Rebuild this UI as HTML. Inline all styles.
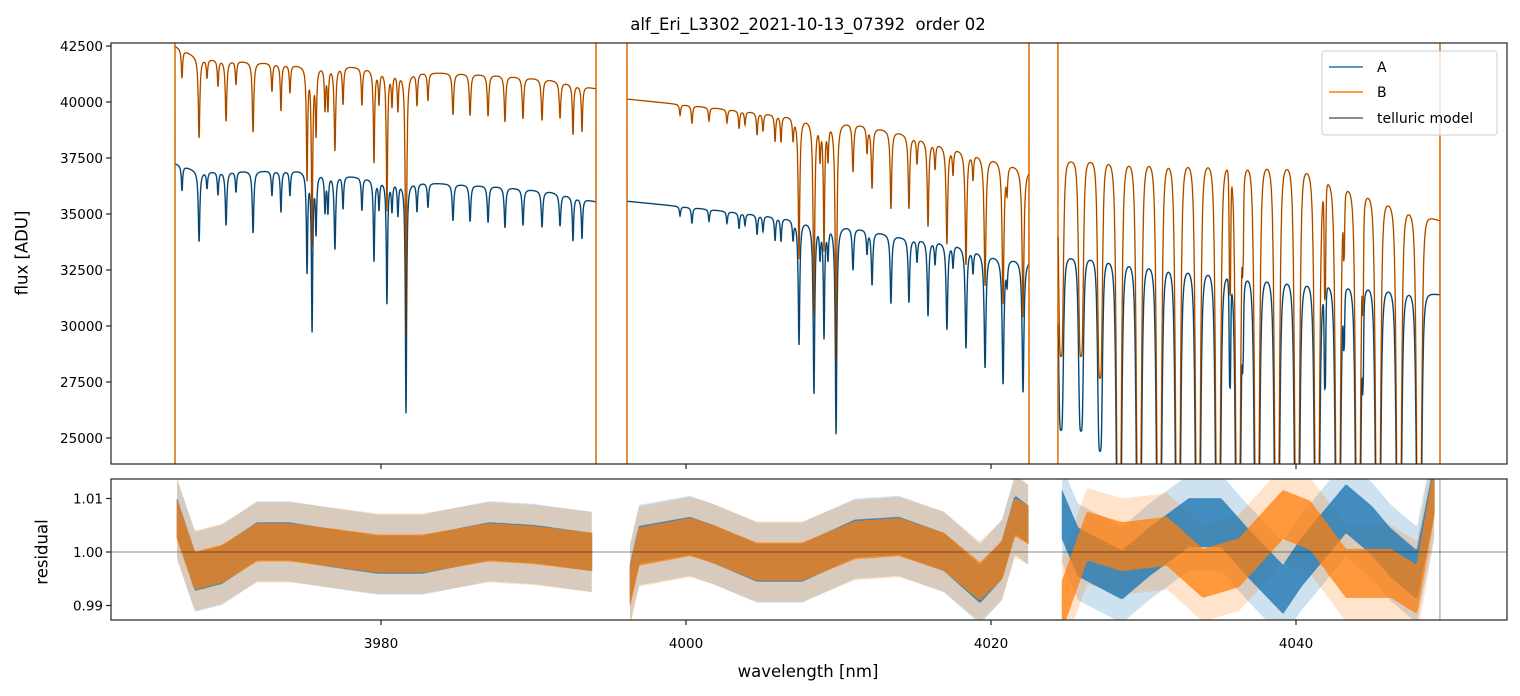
<!DOCTYPE html>
<html><head><meta charset="utf-8"><style>
html,body{margin:0;padding:0;background:#fff;}
svg{display:block;font-family:"DejaVu Sans","Liberation Sans",sans-serif;}
</style></head><body>
<svg id="chart" width="1520" height="696" viewBox="0 0 1520 696" xmlns="http://www.w3.org/2000/svg">
<defs>
<clipPath id="clipTop"><rect x="111" y="43" width="1396" height="421"/></clipPath>
<clipPath id="clipBot"><rect x="111" y="479" width="1396" height="141"/></clipPath>
</defs>
<rect x="0" y="0" width="1520" height="696" fill="#fff"/>
<text x="808" y="30" text-anchor="middle" font-size="16.5" fill="#000">alf_Eri_L3302_2021-10-13_07392&#160; order 02</text>
<g id="topSeries" clip-path="url(#clipTop)"></g>
<g id="botSeries" clip-path="url(#clipBot)"></g>
<g id="axes"></g>
<text x="22" y="253" transform="rotate(-90 22 253)" text-anchor="middle" dominant-baseline="central" font-size="16.5">flux [ADU]</text>
<text x="42" y="552" transform="rotate(-90 42 552)" text-anchor="middle" dominant-baseline="central" font-size="16.5">residual</text>
<text x="808" y="677" text-anchor="middle" font-size="16.5">wavelength [nm]</text>
<g>
<rect x="1322" y="51" width="175" height="84" rx="3" fill="#fff" fill-opacity="0.8" stroke="#ccc"/>
<line x1="1329" y1="67" x2="1363" y2="67" stroke="#1f77b4" stroke-width="1.5"/>
<text x="1377" y="72" font-size="14">A</text>
<line x1="1329" y1="92" x2="1363" y2="92" stroke="#ff7f0e" stroke-width="1.5"/>
<text x="1377" y="97" font-size="14">B</text>
<line x1="1329" y1="118" x2="1363" y2="118" stroke="#666" stroke-width="1.5"/>
<text x="1377" y="123" font-size="14">telluric model</text>
</g>
</svg>
<script>
// ---- data ----
const segStart = [3966.49, 3996.13, 4024.39];
const segEnd = [3994.10, 4022.49, 4049.44];
const contWl = [
 [3966.49,3968.13,3974.69,3977.97,3981.25,3984.52,3987.80,3991.08,3994.10],
 [3996.13,4000.92,4007.48,4010.75,4014.03,4017.31,4020.59,4022.49],
 [4024.39,4027.15,4033.70,4040.26,4042.23,4044.85,4046.89,4049.44]
];
const contA = [
 [37260,36900,36950,36700,36450,36350,36230,36000,35550],
 [35570,35250,34760,34450,34000,33740,33100,32960],
 [33100,33000,32500,32000,31900,31800,31600,31400]
];
const contB = [
 [42500,41960,41650,41600,41340,41300,41200,41000,40600],
 [40130,39800,39330,39100,38650,38030,37450,37000],
 [37400,37400,37300,37200,36500,35900,35300,34700]
];
const lineWl = [3966.95,3968.07,3968.59,3969.31,3969.84,3970.49,3971.61,3972.85,3973.44,3974.03,3975.15,3975.48,3975.74,3976.33,3976.52,3976.98,3977.51,3978.75,3979.54,3979.87,3980.39,3980.72,3981.11,3981.64,3982.36,3983.08,3984.72,3985.84,3987.02,3988.13,3989.31,3990.56,3991.74,3992.59,3993.18,
 3999.61,4000.39,4001.51,4002.69,4003.48,4003.87,4004.66,4005.05,4005.84,4006.23,4007.02,4007.41,4008.39,4008.79,4009.05,4009.31,4009.84,4010.95,4011.87,4012.20,4013.44,4014.62,4015.15,4015.87,4016.33,4017.11,4017.51,4018.36,4018.82,4019.61,4020.79,4021.05,4022.10,
 4024.59,4025.90,4027.15,4028.39,4029.70,4031.02,4032.26,4033.57,4034.89,4035.67,4036.20,4036.52,4037.44,4038.75,4040.07,4041.38,4041.90,4042.75,4043.15,4044.07,4044.39,4045.38,4046.75,4048.07];
const lineDepth = [0.03,0.085,0.02,0.028,0.065,0.025,0.075,0.03,0.05,0.03,0.12,0.19,0.07,0.045,0.045,0.09,0.04,0.04,0.10,0.035,0.15,0.035,0.04,0.283,0.035,0.03,0.045,0.045,0.045,0.05,0.045,0.045,0.04,0.055,0.05,
 0.012,0.02,0.015,0.015,0.02,0.015,0.025,0.02,0.03,0.03,0.025,0.16,0.22,0.04,0.145,0.04,0.27,0.055,0.03,0.07,0.09,0.085,0.03,0.10,0.03,0.115,0.03,0.134,0.03,0.154,0.17,0.03,0.18,
 0.234,0.234,0.26,0.45,0.45,0.45,0.45,0.45,0.45,0.15,0.45,0.08,0.45,0.45,0.45,0.45,0.14,0.45,0.07,0.45,0.1,0.45,0.45,0.45];
const lineWidth = [0.05,0.06,0.05,0.05,0.06,0.05,0.06,0.05,0.05,0.05,0.05,0.05,0.05,0.05,0.05,0.06,0.05,0.05,0.05,0.05,0.05,0.05,0.05,0.05,0.05,0.05,0.06,0.06,0.06,0.06,0.06,0.06,0.06,0.05,0.05,
 0.05,0.05,0.05,0.05,0.05,0.05,0.05,0.05,0.05,0.05,0.05,0.06,0.06,0.05,0.05,0.05,0.06,0.06,0.05,0.06,0.06,0.06,0.05,0.06,0.05,0.065,0.05,0.065,0.05,0.07,0.07,0.05,0.07,
 0.17,0.17,0.17,0.19,0.19,0.19,0.19,0.19,0.19,0.06,0.19,0.05,0.19,0.19,0.19,0.19,0.06,0.19,0.05,0.19,0.05,0.19,0.19,0.19];
const resWlA = [
 [3966.62,3967.80,3969.57,3971.87,3973.97,3976.85,3979.80,3982.69,3987.08,3990.03,3993.84],
 [3996.33,3996.92,4000.26,4001.77,4004.66,4007.61,4011.08,4013.97,4016.92,4019.28,4020.72,4021.57,4022.49],
 [4024.66,4025.70,4028.59,4030.36,4032.98,4035.08,4036.79,4039.15,4040.33,4043.28,4044.98,4046.16,4047.93,4049.11]
];
const resA = [
 [1.0064,0.9963,0.9976,1.0020,1.0020,1.0007,0.9995,0.9995,1.0020,1.0015,1.0000],
 [0.9940,1.0013,1.0030,1.0015,0.9980,0.9980,1.0025,1.0030,1.0000,0.9940,0.9985,1.0070,1.0050],
 [1.0070,1.0000,0.9957,1.0000,1.0055,1.0055,1.0000,0.9930,0.9980,1.0081,1.0040,1.0000,0.9957,1.0125]
];
const resWlB = [
 [3966.62,3967.80,3969.57,3971.87,3973.97,3976.85,3979.80,3982.69,3987.08,3990.03,3993.84],
 [3996.33,3996.92,4000.26,4001.77,4004.66,4007.61,4011.08,4013.97,4016.92,4019.28,4020.72,4021.57,4022.49],
 [4024.66,4026.30,4028.59,4031.54,4033.90,4036.26,4039.15,4040.92,4043.28,4046.23,4047.93,4049.11]
];
const resB = [
 [1.0060,0.9965,0.9978,1.0018,1.0018,1.0008,0.9997,0.9997,1.0018,1.0013,1.0000],
 [0.9935,1.0010,1.0028,1.0015,0.9982,0.9982,1.0022,1.0028,1.0000,0.9945,0.9985,1.0065,1.0050],
 [0.9900,1.0030,1.0010,1.0020,0.9960,0.9980,1.0070,1.0050,0.9960,0.9960,0.9930,1.0120]
];
const resSpread = [0.0035, 0.0035, 0.0045];
const resOuterSpread = [0.0075, 0.0075, 0.009];
const xTicks = [3980, 4000, 4020, 4040];
const yTicks = [25000, 27500, 30000, 32500, 35000, 37500, 40000, 42500];
const rTicks = [0.99, 1.00, 1.01];
const rTickLabels = ["0.99", "1.00", "1.01"];

// ---- scales ----
const X = wl => 381 + (wl - 3980) * 15.25;
const Y = v => 46 + (42500 - v) * 0.0224;
const R = r => 552 - (r - 1) * 5350;
const NS = "http://www.w3.org/2000/svg";
function interp(xs, ys, x) {
  if (x <= xs[0]) return ys[0];
  for (let i = 1; i < xs.length; i++) if (x <= xs[i]) {
    const t = (x - xs[i-1]) / (xs[i] - xs[i-1]); return ys[i-1] + t * (ys[i] - ys[i-1]);
  }
  return ys[ys.length-1];
}
function trans(wl) {
  let t = 1;
  for (let i = 0; i < lineWl.length; i++) {
    const d = wl - lineWl[i], g = lineWidth[i];
    if (Math.abs(d) > 3) continue;
    if (lineWl[i] > 4024) {
      const g4 = g*g*g*g, d4 = d*d*d*d;
      t *= 1 - lineDepth[i] * g4 / (d4 + g4);
    } else {
      t *= 1 - lineDepth[i] * g * g / (d * d + g * g);
    }
  }
  return t;
}
function mk(tag, attrs, parent) {
  const e = document.createElementNS(NS, tag);
  for (const k in attrs) e.setAttribute(k, attrs[k]);
  parent.appendChild(e); return e;
}
const topG = document.getElementById('topSeries');
const botG = document.getElementById('botSeries');
const axG = document.getElementById('axes');

function segPath(s, cont, edges) {
  const step = 0.01;
  let d = edges ? `M${X(segStart[s]).toFixed(1)},470 L${X(segStart[s]).toFixed(1)},40` : '';
  for (let wl = segStart[s] + step; wl < segEnd[s]; wl += step) {
    const v = interp(contWl[s], cont[s], wl) * trans(wl);
    d += (d ? ' L' : 'M') + X(wl).toFixed(2) + ',' + Y(v).toFixed(2);
  }
  if (edges) d += ` L${X(segEnd[s]).toFixed(1)},40 L${X(segEnd[s]).toFixed(1)},470`;
  return d;
}
for (let s = 0; s < 3; s++) {
  const pa = mk('path', {d: segPath(s, contA, true), fill: 'none', stroke: '#1f77b4', 'stroke-width': 1.5}, topG);
  
  
  const pb = mk('path', {d: segPath(s, contB, true), fill: 'none', stroke: '#ff7f0e', 'stroke-width': 1.5}, topG);
  
  
}
for (let s = 0; s < 3; s++) {
  const ma = mk('path', {d: segPath(s, contA, false), fill: 'none', stroke: '#000', 'stroke-opacity': 0.55, 'stroke-width': 0.8}, topG);
  
  
  const mb = mk('path', {d: segPath(s, contB, false), fill: 'none', stroke: '#000', 'stroke-opacity': 0.5, 'stroke-width': 0.8}, topG);
  
  
}
function band(wls, vals, sp) {
  let up = '', lo = [];
  const w0 = wls[0], w1 = wls[wls.length-1];
  for (let wl = w0; wl <= w1 + 1e-9; wl += 0.1) {
    const v = interp(wls, vals, wl);
    up += (up ? ' L' : 'M') + X(wl).toFixed(1) + ',' + R(v + sp).toFixed(1);
    lo.push(X(wl).toFixed(1) + ',' + R(v - sp).toFixed(1));
  }
  return up + ' L' + lo.reverse().join(' L') + ' Z';
}
for (let s = 0; s < 3; s++) {
  const oa = mk('path', {d: band(resWlA[s], resA[s], resOuterSpread[s]), fill: '#1f77b4', 'fill-opacity': 0.22, stroke: 'none'}, botG);
  
  
  const ob = mk('path', {d: band(resWlB[s], resB[s], resOuterSpread[s]), fill: '#ff7f0e', 'fill-opacity': 0.22, stroke: 'none'}, botG);
  
  
}
for (let s = 0; s < 3; s++) {
  const ba = mk('path', {d: band(resWlA[s], resA[s], resSpread[s]), fill: '#1f77b4', 'fill-opacity': 0.8, stroke: '#1f77b4', 'stroke-opacity': 0.5, 'stroke-width': 1}, botG);
  
  
}
for (let s = 0; s < 3; s++) {
  const bb = mk('path', {d: band(resWlB[s], resB[s], resSpread[s]), fill: '#ff7f0e', 'fill-opacity': 0.75, stroke: '#ff7f0e', 'stroke-opacity': 0.5, 'stroke-width': 1}, botG);
  
  
}
const vl = mk('line', {x1: X(segEnd[2]), x2: X(segEnd[2]), y1: 479, y2: 620, stroke: '#999', 'stroke-width': 1}, botG);


const hl = mk('line', {x1: 111, x2: 1507, y1: R(1), y2: R(1), stroke: '#000', 'stroke-opacity': 0.6, 'stroke-width': 0.8}, botG);



const f1 = mk('rect', {x: 111, y: 43, width: 1396, height: 421, fill: 'none', stroke: '#222', 'stroke-width': 1.2}, axG);


const f2 = mk('rect', {x: 111, y: 479, width: 1396, height: 141, fill: 'none', stroke: '#222', 'stroke-width': 1.2}, axG);


xTicks.forEach(t => {
  const x = X(t);
  const a = mk('line', {x1: x, x2: x, y1: 464, y2: 469, stroke: '#222', 'stroke-width': 1.2}, axG);
  
  
  const b = mk('line', {x1: x, x2: x, y1: 620, y2: 625, stroke: '#222', 'stroke-width': 1.2}, axG);
  
  
  const l = mk('text', {x: x, y: 648, 'text-anchor': 'middle', 'font-size': 13.5}, axG);
  l.textContent = String(t);
  
  
});
yTicks.forEach(t => {
  const y = Y(t);
  const a = mk('line', {x1: 106, x2: 111, y1: y, y2: y, stroke: '#222', 'stroke-width': 1.2}, axG);
  
  
  const l = mk('text', {x: 103, y: y + 5, 'text-anchor': 'end', 'font-size': 13.5}, axG);
  l.textContent = String(t);
  
  
});
rTicks.forEach((t, i) => {
  const y = R(t);
  const a = mk('line', {x1: 106, x2: 111, y1: y, y2: y, stroke: '#222', 'stroke-width': 1.2}, axG);
  
  
  const l = mk('text', {x: 103, y: y + 5, 'text-anchor': 'end', 'font-size': 13.5}, axG);
  l.textContent = rTickLabels[i];
  
  
});
</script>
</body></html>
